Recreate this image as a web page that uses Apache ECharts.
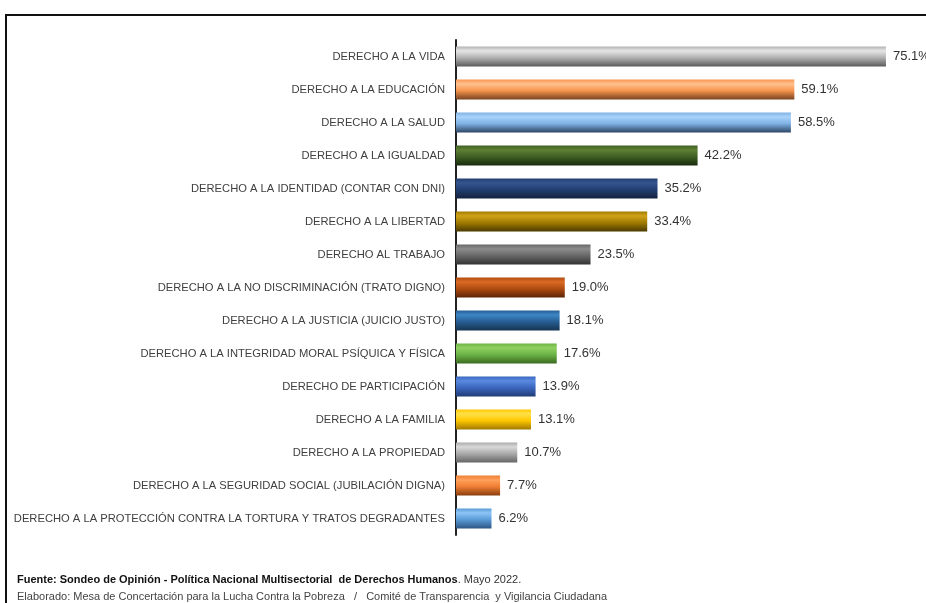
<!DOCTYPE html>
<html>
<head>
<meta charset="utf-8">
<script src="https://cdn.jsdelivr.net/npm/echarts@6/dist/echarts.min.js"></script>
<style>
  html, body { margin: 0; padding: 0; background: #fff; }
  #chart { width: 926px; height: 603px; }
</style>
</head>
<body>
<div id="chart"></div>
<script>
// derechos (de arriba hacia abajo)
const categories = [
  'DERECHO A LA VIDA',
  'DERECHO A LA EDUCACIÓN',
  'DERECHO A LA SALUD',
  'DERECHO A LA IGUALDAD',
  'DERECHO A LA IDENTIDAD (CONTAR CON DNI)',
  'DERECHO A LA LIBERTAD',
  'DERECHO AL TRABAJO',
  'DERECHO A LA NO DISCRIMINACIÓN (TRATO DIGNO)',
  'DERECHO A LA JUSTICIA (JUICIO JUSTO)',
  'DERECHO A LA INTEGRIDAD MORAL PSÍQUICA Y FÍSICA',
  'DERECHO DE PARTICIPACIÓN',
  'DERECHO A LA FAMILIA',
  'DERECHO A LA PROPIEDAD',
  'DERECHO A LA SEGURIDAD SOCIAL (JUBILACIÓN DIGNA)',
  'DERECHO A LA PROTECCIÓN CONTRA LA TORTURA Y TRATOS DEGRADANTES'
]
const values = [75.1, 59.1, 58.5, 42.2, 35.2, 33.4, 23.5, 19.0, 18.1, 17.6, 13.9, 13.1, 10.7, 7.7, 6.2]

// [claro, medio, oscuro] por barra
const palette = [
  ['#e6e6e6', '#b3b3b3', '#5a5a5a'],
  ['#ffc08f', '#f7964f', '#7a4220'],
  ['#a9d3fb', '#7fb2e5', '#2e4766'],
  ['#5f7f34', '#3f6124', '#1a2a0e'],
  ['#35558f', '#233f73', '#14213d'],
  ['#d0a21a', '#a17c00', '#4c3a00'],
  ['#8c8c8c', '#686868', '#333333'],
  ['#d96a23', '#b24d12', '#5c2406'],
  ['#3d86c6', '#275f94', '#163452'],
  ['#8fd060', '#6cb446', '#3a6a22'],
  ['#5a8ae0', '#3b67bf', '#213c75'],
  ['#ffe14a', '#ffc800', '#a07a00'],
  ['#d9d9d9', '#ababab', '#666666'],
  ['#ffa05a', '#ef7f34', '#8a3e0e'],
  ['#8cc4f5', '#5b9bd8', '#2c5682']
]

const FONT = '"Liberation Sans Narrow", "Arial Narrow", "Liberation Sans", sans-serif'

// degradado tipo cilindro: brillo arriba, sombra abajo
const cylinder = (c) => new echarts.graphic.LinearGradient(0, 0, 0, 1, [
  { offset: 0, color: c[1] },
  { offset: 0.22, color: c[0] },
  { offset: 0.55, color: c[1] },
  { offset: 1, color: c[2] }
])

const chart = echarts.init(document.getElementById('chart'))

chart.setOption({
  animation: false,
  backgroundColor: '#fff',
  grid: { left: 456, top: 40, width: 458, height: 495, containLabel: false, outerBoundsMode: 'none' },
  xAxis: {
    type: 'value',
    min: 0,
    max: 80,
    show: false
  },
  yAxis: {
    type: 'category',
    inverse: true,
    data: categories,
    axisLine: { show: true, lineStyle: { color: '#222', width: 2 } },
    axisTick: { show: false },
    axisLabel: {
      margin: 11,
      color: '#404040',
      fontFamily: FONT,
      fontSize: 11.2
    }
  },
  series: [{
    type: 'bar',
    barWidth: 20,
    data: values.map((v, i) => ({
      value: v,
      itemStyle: { color: cylinder(palette[i]) }
    })),
    label: {
      show: true,
      position: 'right',
      distance: 7,
      color: '#333',
      fontFamily: FONT,
      fontSize: 13,
      formatter: (p) => p.value.toFixed(1) + '%'
    }
  }],
  graphic: [
    {
      type: 'rect',
      shape: { x: 6, y: 15, width: 1000, height: 700 },
      style: { fill: 'none', stroke: '#111', lineWidth: 2 },
      silent: true
    },
    {
      type: 'text',
      left: 17,
      top: 574,
      style: {
        text: '{b|Fuente: Sondeo de Opinión - Política Nacional Multisectorial  de Derechos Humanos}{n|. Mayo 2022.}',
        rich: {
          b: { fontFamily: FONT, fontSize: 11, fontWeight: 'bold', fill: '#111' },
          n: { fontFamily: FONT, fontSize: 11, fill: '#333' }
        }
      }
    },
    {
      type: 'text',
      left: 17,
      top: 591,
      style: {
        text: 'Elaborado: Mesa de Concertación para la Lucha Contra la Pobreza   /   Comité de Transparencia  y Vigilancia Ciudadana',
        fontFamily: FONT,
        fontSize: 11,
        fill: '#444'
      }
    }
  ]
})
</script>
</body>
</html>
